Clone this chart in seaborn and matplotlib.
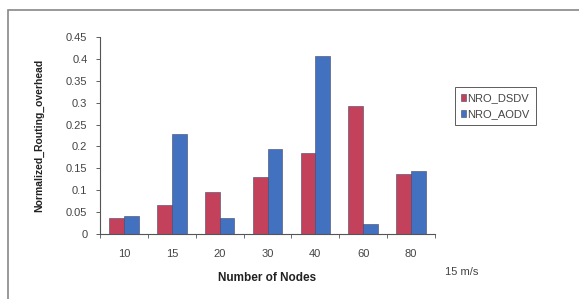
import matplotlib
matplotlib.use("Agg")
import matplotlib.pyplot as plt
import seaborn as sns
import pandas as pd
from matplotlib.patches import Rectangle

nodes = ["10", "15", "20", "30", "40", "60", "80"]
nro_dsdv = [0.036, 0.066, 0.097, 0.130, 0.186, 0.292, 0.136]
nro_aodv = [0.040, 0.228, 0.036, 0.195, 0.407, 0.023, 0.143]
series = ["NRO_DSDV", "NRO_AODV"]
colors = ["#C4415C", "#4271C0"]

df = pd.DataFrame({
    "Nodes": nodes * 2,
    "Value": nro_dsdv + nro_aodv,
    "Series": [series[0]] * len(nodes) + [series[1]] * len(nodes),
})

sns.set_style("white")
plt.rcParams["font.family"] = ["Liberation Sans", "DejaVu Sans"]

fig = plt.figure(figsize=(5.79, 2.99), dpi=100)
ax = fig.add_axes([100/579, 1-234/299, 335/579, 197/299])

sns.barplot(data=df, x="Nodes", y="Value", hue="Series", order=nodes,
            hue_order=series, palette=colors, width=0.62, ax=ax,
            edgecolor="#444466", linewidth=0.4, saturation=1)

ax.set_ylim(0, 0.45)
ax.set_xlim(-0.5, len(nodes) - 0.5)
ax.set_yticks([0, 0.05, 0.1, 0.15, 0.2, 0.25, 0.3, 0.35, 0.4, 0.45])
ax.set_yticklabels(["0", "0.05", "0.1", "0.15", "0.2", "0.25", "0.3", "0.35", "0.4", "0.45"])
ax.tick_params(axis="y", labelsize=8, length=3, width=0.6, direction="out", left=True, colors="#444444", pad=6)
ax.tick_params(axis="x", which="major", labelsize=8, length=0, pad=11, colors="#444444")
ax.set_xticks([i + 0.5 for i in range(-1, len(nodes))], minor=True)
ax.tick_params(axis="x", which="minor", length=3, width=0.6, direction="out", bottom=True, color="#555555")

for s in ["top", "right"]:
    ax.spines[s].set_visible(False)
for s in ["left", "bottom"]:
    ax.spines[s].set_color("#555555")
    ax.spines[s].set_linewidth(0.8)

ax.set_xlabel("Number of Nodes", fontsize=8.5, fontweight="bold", labelpad=9, color="#222222")
ax.set_ylabel("Normalized_Routing_overhead", fontsize=7.5, fontweight="bold", labelpad=16, color="#222222")

leg = ax.legend(loc="upper left", bbox_to_anchor=(455/579, 1-87/299), bbox_transform=fig.transFigure,
                fontsize=8, frameon=True, fancybox=False, edgecolor="#333333",
                handlelength=0.45, handleheight=0.55, handletextpad=0.1, borderpad=0.55,
                labelspacing=0.55, borderaxespad=0)
leg.get_frame().set_linewidth(0.7)
for t in leg.get_texts():
    t.set_color("#444444")

fig.text(445/579, 1-272/299, "15 m/s", fontsize=8, color="#444444", va="center", ha="left")

fig.patches.append(Rectangle((8/579, -0.1), 1.2, (1-10/299) + 0.1, transform=fig.transFigure,
                             fill=False, edgecolor="#888888", linewidth=1.2, zorder=-1))

fig.savefig("out.png", dpi=100)
